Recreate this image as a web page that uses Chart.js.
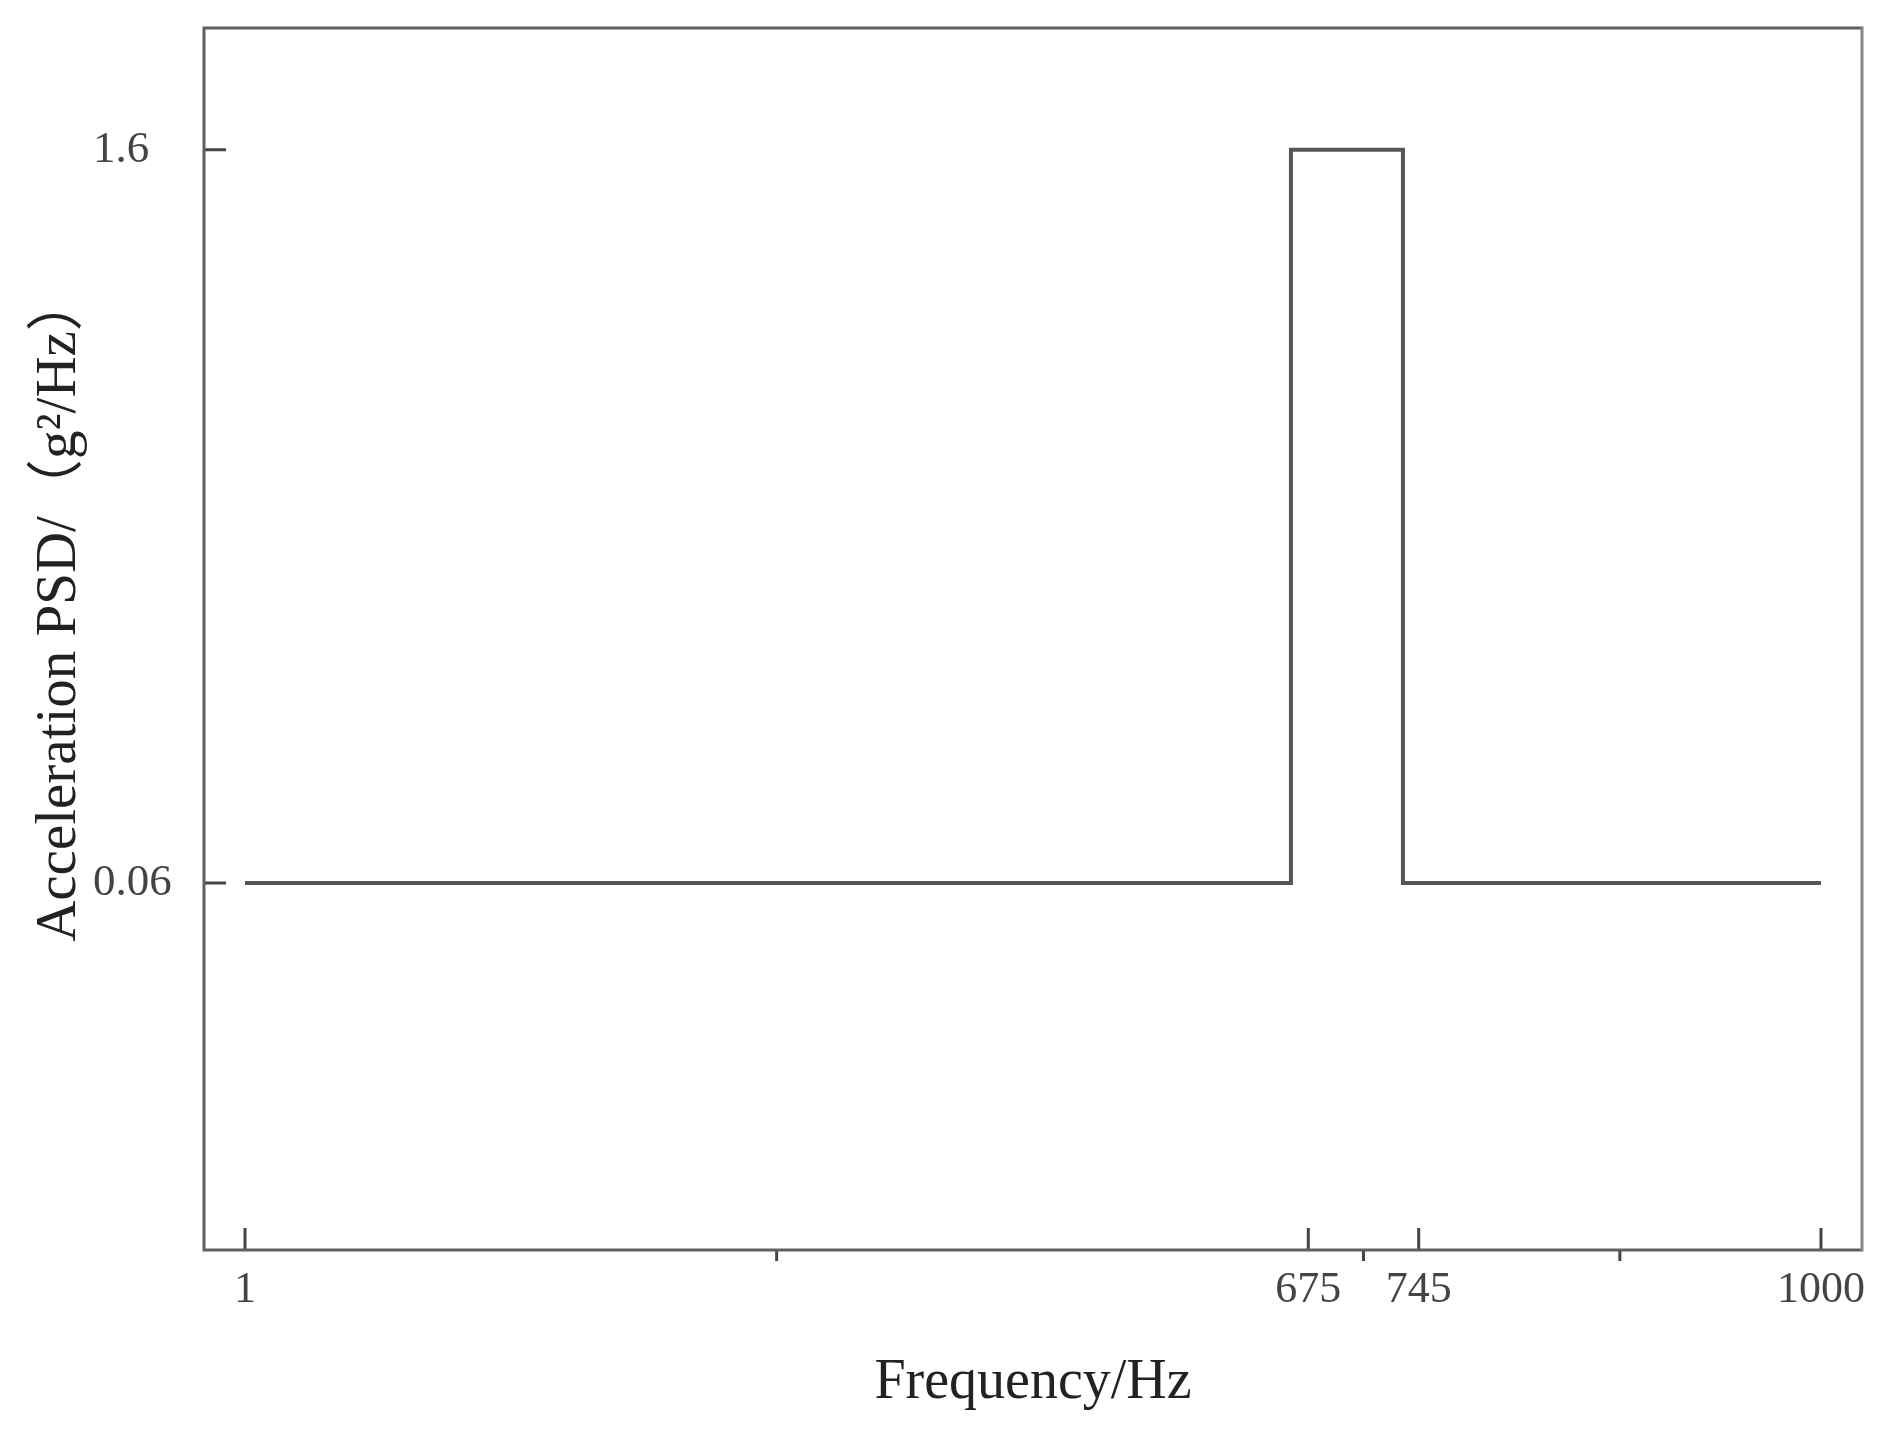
<!DOCTYPE html>
<html><head><meta charset="utf-8">
<script src="https://cdn.jsdelivr.net/npm/chart.js@4"></script>
<style>html,body{margin:0;padding:0;background:#fff}#wrap{width:1900px;height:1431px}</style>
</head><body><div id="wrap"><canvas id="c" width="1900" height="1431"></canvas></div>
<script>
const frequency = [1, 664, 664, 735, 735, 1000];
const psd = [0.06, 0.06, 1.6, 1.6, 0.06, 0.06];
const xTickValues = [1, 675, 745, 1000];
const xTickLabels = ['1', '675', '745', '1000'];
const xMinorTicks = [338, 710, 872.5];
const yTickValues = [0.06, 1.6];
const yTickLabels = ['0.06', '1.6'];
const xTitle = 'Frequency/Hz';
const yTitle = 'Acceleration PSD/（g²/Hz）';

const SERIF = '"Liberation Serif", "DejaVu Serif", serif';

const decor = {
  id: 'decor',
  afterDraw(chart) {
    const { ctx, chartArea: a, scales: { x, y } } = chart;
    ctx.save();
    ctx.lineCap = 'butt';
    ctx.strokeStyle = '#444';
    ctx.lineWidth = 3;
    ctx.beginPath();
    xTickValues.forEach(v => { const px = x.getPixelForValue(v); ctx.moveTo(px, a.bottom); ctx.lineTo(px, a.bottom - 22); });
    xMinorTicks.forEach(v => { const px = x.getPixelForValue(v); ctx.moveTo(px, a.bottom); ctx.lineTo(px, a.bottom + 11); });
    yTickValues.forEach(v => { const py = y.getPixelForValue(v); ctx.moveTo(a.left, py); ctx.lineTo(a.left + 22, py); });
    ctx.stroke();
    // frame
    ctx.lineWidth = 3;
    ctx.strokeStyle = '#606060';
    ctx.beginPath();
    ctx.moveTo(a.right, a.bottom); ctx.lineTo(a.left, a.bottom); ctx.lineTo(a.left, a.top); ctx.lineTo(a.right, a.top);
    ctx.stroke();
    ctx.strokeStyle = '#858585';
    ctx.beginPath();
    ctx.moveTo(a.right, a.top - 1.5); ctx.lineTo(a.right, a.bottom + 1.5);
    ctx.stroke();
    // titles
    ctx.fillStyle = '#222';
    ctx.font = '56px ' + SERIF;
    ctx.textAlign = 'center';
    ctx.textBaseline = 'alphabetic';
    ctx.fillText(xTitle, (a.left + a.right) / 2, a.bottom + 148);
    ctx.translate(75, (a.top + a.bottom) / 2 - 31);
    ctx.rotate(-Math.PI / 2);
    ctx.font = '57px ' + SERIF + ', "Noto Sans CJK SC"';
    ctx.fillText(yTitle, 0, 0);
    ctx.restore();
  }
};

new Chart(document.getElementById('c'), {
  type: 'line',
  data: {
    datasets: [{
      data: frequency.map((f, i) => ({ x: f, y: psd[i] })),
      borderColor: '#555',
      borderWidth: 4,
      pointRadius: 0,
      fill: false,
      tension: 0,
      borderJoinStyle: 'miter',
      borderCapStyle: 'butt'
    }]
  },
  options: {
    responsive: false,
    animation: false,
    devicePixelRatio: 1,
    layout: { padding: { left: 93, right: 38, top: 28, bottom: 0 } },
    plugins: { legend: { display: false }, tooltip: { enabled: false } },
    scales: {
      x: {
        type: 'linear',
        min: -25, max: 1026,
        afterBuildTicks: s => { s.ticks = xTickValues.map(v => ({ value: v })); },
        afterFit: s => { s.height = 181; },
        grid: { display: false, drawTicks: false },
        border: { display: false },
        ticks: {
          autoSkip: false, maxRotation: 0, padding: 14,
          font: { family: SERIF, size: 44 }, color: '#444',
          callback: (v, i) => xTickLabels[i]
        }
      },
      y: {
        type: 'linear',
        min: -0.711, max: 1.856,
        afterBuildTicks: s => { s.ticks = yTickValues.map(v => ({ value: v })); },
        afterFit: s => { s.width = 111; },
        grid: { display: false, drawTicks: false },
        border: { display: false },
        ticks: {
          autoSkip: false, padding: 0, crossAlign: 'far',
          font: { family: SERIF, size: 45 }, color: '#444',
          callback: (v, i) => yTickLabels[i]
        }
      }
    }
  },
  plugins: [decor]
});
</script>
</body></html>
